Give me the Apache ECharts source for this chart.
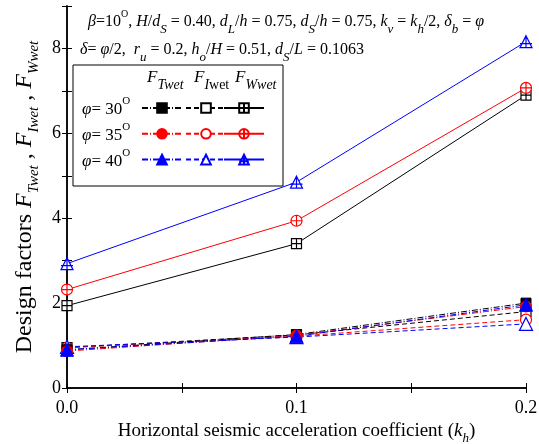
<!DOCTYPE html>
<html>
<head>
<meta charset="utf-8">
<script src="https://cdn.jsdelivr.net/npm/echarts@6/dist/echarts.min.js"></script>
<style>html,body{margin:0;padding:0;background:#fff}#main{width:539px;height:444px}</style>
</head>
<body>
<div id="main"></div>
<script>
// horizontal seismic coefficient kh
var kh = [0, 0.1, 0.2];
var phiVals = ['30', '35', '40'];
// F_Twet
var fT30 = [0.90, 1.26, 2.00];
var fT35 = [0.87, 1.24, 1.92];
var fT40 = [0.90, 1.22, 1.96];
// F_Iwet
var fI30 = [0.95, 1.25, 1.80];
var fI35 = [0.95, 1.22, 1.61];
var fI40 = [0.97, 1.20, 1.51];
// F_Wwet
var fW30 = [1.94, 3.40, 6.90];
var fW35 = [2.32, 3.94, 7.07];
var fW40 = [2.93, 4.85, 8.16];

var FONT = '"Liberation Serif", "Times New Roman", serif';
var colors = ['#000000', '#ff0000', '#0000ff'];

var sqPlus = 'path://M0,0 L10,0 L10,10 L0,10 Z M5,0 L5,10 M0,5 L10,5';
var cirPlus = 'path://M5,0 A5,5 0 1,1 5,10 A5,5 0 1,1 5,0 Z M5,0 L5,10 M0,5 L10,5';
var triPlus = 'path://M5,0 L10,9 L0,9 Z M5,0 L5,9 M0,6 L10,6';

function pts(arr) {
  return arr.map(function (v, i) { return [kh[i], v]; });
}

function mk(name, arr, color, symbol, size, open, dash) {
  return {
    name: name,
    type: 'line',
    data: pts(arr),
    symbol: symbol,
    symbolSize: size,
    showAllSymbol: true,
    animation: false,
    lineStyle: { color: color, width: 1, type: dash },
    itemStyle: open ? { color: '#fff', borderColor: color, borderWidth: 1.2 } : { color: color, borderColor: color, borderWidth: 1 }
  };
}

var dashDot = [6, 2, 1, 2];
var dashed = [5, 3];

var series = [
  mk('FW30', fW30, colors[0], sqPlus, 10, true, 'solid'),
  mk('FW35', fW35, colors[1], cirPlus, 11, true, 'solid'),
  mk('FW40', fW40, colors[2], triPlus, 12, true, 'solid'),
  mk('FI30', fI30, colors[0], 'rect', 10, true, dashed),
  mk('FI35', fI35, colors[1], 'circle', 11, true, dashed),
  mk('FI40', fI40, colors[2], 'triangle', 13, true, dashed),
  mk('FT30', fT30, colors[0], 'rect', 10, false, dashDot),
  mk('FT35', fT35, colors[1], 'circle', 11, false, dashDot),
  mk('FT40', fT40, colors[2], 'triangle', 13, false, dashDot)
];

// sub tokens get a top padding so they sit below the baseline of normal text,
// normal tokens get 'raise' padding so the sup token sits above them
function richSet(size, subSize, pad, raise) {
  var lh = size + 4;
  var p = [raise, 0, 0, 0];
  return {
    n: { fontFamily: FONT, fontSize: size, color: '#000', lineHeight: lh, verticalAlign: 'top', padding: p },
    i: { fontFamily: FONT, fontSize: size, fontStyle: 'italic', color: '#000', lineHeight: lh, verticalAlign: 'top', padding: p },
    sub: { fontFamily: FONT, fontSize: subSize, fontStyle: 'italic', color: '#000', padding: [pad + raise, 0, 0, 0], verticalAlign: 'bottom' },
    s2: { fontFamily: FONT, fontSize: subSize, color: '#000', padding: [pad + raise, 0, 0, 0], verticalAlign: 'bottom' },
    sup: { fontFamily: FONT, fontSize: Math.round(size * 0.65), color: '#000', verticalAlign: 'top' }
  };
}
var richNote = richSet(16, 13, 9, 5);
var richLeg = richSet(17, 14, 9, 5);

function legendCol(names, left) {
  return {
    orient: 'vertical',
    left: left,
    top: 102,
    padding: 0,
    itemWidth: 40,
    itemHeight: 12,
    itemGap: 14,
    selectedMode: false,
    data: names,
    formatter: function () { return ''; },
    textStyle: { fontSize: 1 }
  };
}

var myChart = echarts.init(document.getElementById('main'));
var option = {
  backgroundColor: '#fff',
  animation: false,
  grid: { left: 67, right: 13, top: 6, bottom: 56, outerBoundsMode: 'none' },
  legend: [
    legendCol(['FT30', 'FT35', 'FT40'], 141),
    legendCol(['FI30', 'FI35', 'FI40'], 185),
    legendCol(['FW30', 'FW35', 'FW40'], 223)
  ],
  xAxis: [{
    type: 'value', min: 0, max: 0.2, interval: 0.05,
    axisLine: { lineStyle: { color: '#000', width: 1.5 } },
    axisTick: { inside: true, length: 5, lineStyle: { color: '#000' } },
    splitLine: { show: false },
    axisLabel: {
      margin: 11, fontFamily: FONT, fontSize: 18, color: '#000',
      formatter: function (v) {
        var r = Math.round(v * 100);
        return r % 10 === 0 ? v.toFixed(1) : '';
      }
    },
    name: '{n|Horizontal seismic acceleration coefficient (}{i|k}{sub|h}{n|)}',
    nameLocation: 'middle',
    nameGap: 29,
    nameTextStyle: { rich: richSet(19, 13, 10, 0) }
  }, {
    type: 'value', min: 0, max: 0.2, interval: 0.05, position: 'top',
    axisLine: { lineStyle: { color: '#000', width: 1.5 } },
    axisTick: { inside: true, length: 5, lineStyle: { color: '#000' } },
    splitLine: { show: false },
    axisLabel: { show: false }
  }],
  yAxis: [{
    type: 'value', min: 0, max: 9, interval: 1,
    axisLine: { lineStyle: { color: '#000', width: 1.5 } },
    axisTick: { inside: true, length: 5, lineStyle: { color: '#000' } },
    splitLine: { show: false },
    axisLabel: {
      margin: 6, fontFamily: FONT, fontSize: 18, color: '#000',
      formatter: function (v) { return (v % 2 === 0 && v < 9) ? String(v) : ''; }
    },
    name: '{n|Design factors }{i|F}{sub|Twet}{n| , }{i|F}{sub|Iwet}{n| , }{i|F}{sub|Wwet}',
    nameLocation: 'middle',
    nameGap: 5,
    nameTextStyle: { rich: richSet(24, 15, 13, 0) }
  }, {
    type: 'value', min: 0, max: 9, interval: 1, position: 'right',
    axisLine: { lineStyle: { color: '#000', width: 1.5 } },
    axisTick: { inside: true, length: 5, lineStyle: { color: '#000' } },
    splitLine: { show: false },
    axisLabel: { show: false }
  }],
  graphic: [
    {
      type: 'text', left: 88, top: 9, z: 10,
      style: {
        text: '{i|β}{n|=10}{sup|O}{n|, }{i|H}{n|/}{i|d}{sub|S}{n| = 0.40, }{i|d}{sub|L}{n|/}{i|h}{n| = 0.75, }{i|d}{sub|S}{n|/}{i|h}{n| = 0.75, }{i|k}{sub|v}{n| = }{i|k}{sub|h}{n|/2, }{i|δ}{sub|b}{n| = }{i|φ}',
        rich: richNote
      }
    },
    {
      type: 'text', left: 80, top: 37, z: 10,
      style: {
        text: '{i|δ}{n|= }{i|φ}{n|/2,  }{i|r}{sub|u}{n| = 0.2, }{i|h}{sub|o}{n|/}{i|H}{n| = 0.51, }{i|d}{sub|S}{n|/}{i|L}{n| = 0.1063}',
        rich: richNote
      }
    },
    {
      type: 'rect', z: 1,
      shape: { x: 73, y: 65, width: 210, height: 121 },
      style: { fill: '#fff', stroke: '#000', lineWidth: 1 }
    },
    {
      type: 'text', left: 147, top: 64, z: 10,
      style: { text: '{i|F}{sub|Twet}', rich: richLeg }
    },
    {
      type: 'text', left: 194, top: 64, z: 10,
      style: { text: '{i|F}{sub|I}{s2|wet}', rich: richLeg }
    },
    {
      type: 'text', left: 235, top: 64, z: 10,
      style: { text: '{i|F}{sub|Wwet}', rich: richLeg }
    }
  ].concat(phiVals.map(function (p, k) {
    return {
      type: 'text', left: 82, top: 96 + k * 26, z: 10,
      style: { text: '{i|φ}{n|= ' + p + '}{sup|O}', rich: richLeg }
    };
  })),
  series: series
};
myChart.setOption(option);
</script>
</body>
</html>
